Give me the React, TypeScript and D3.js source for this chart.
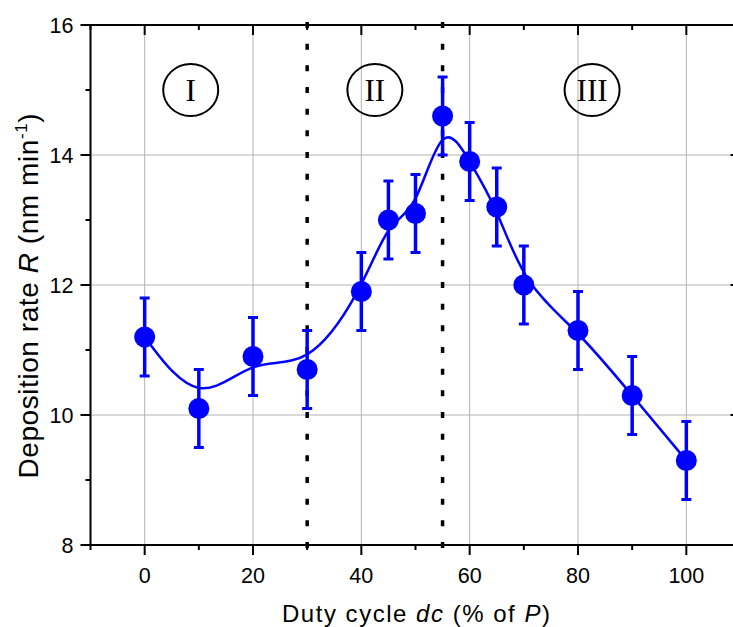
import React from "react";
import * as d3 from "d3";

const dutyCycle = [0, 10, 20, 30, 40, 45, 50, 55, 60, 65, 70, 80, 90, 100];
const rate = [11.2, 10.1, 10.9, 10.7, 11.9, 13.0, 13.1, 14.6, 13.9, 13.2, 12.0, 11.3, 10.3, 9.3];
const rateErr = [0.6, 0.6, 0.6, 0.6, 0.6, 0.6, 0.6, 0.6, 0.6, 0.6, 0.6, 0.6, 0.6, 0.6];
const xTicks = [0, 20, 40, 60, 80, 100];
const xMinorTicks = [-10, 10, 30, 50, 70, 90, 110];
const yTicks = [8, 10, 12, 14, 16];
const yMinorTicks = [9, 11, 13, 15];
const regionBoundaries = [30, 55];
const regionLabels = ["I", "II", "III"];
const regionLabelX = [8.5, 42.5, 82.6];
const regionLabelY = 15;

const W = 733;
const H = 627;
const left = 90.5;
const right = 740.5;
const top = 25;
const bottom = 545;

export default function App() {
  const x = d3.scaleLinear().domain([-10, 110]).range([left, right]);
  const y = d3.scaleLinear().domain([8, 16]).range([bottom, top]);
  const pts: [number, number][] = dutyCycle.map((d, i) => [x(d), y(rate[i])]);
  const line = d3.line().curve(d3.curveBasis)(pts) || "";
  const blue = "#0000ff";
  const font = "'Liberation Sans', Arial, sans-serif";
  const dotPeriod = (bottom - top) / 24;

  return (
    <svg
      width={W}
      height={H}
      style={{ position: "absolute", left: 0, top: 0, background: "#fff" }}
      fontFamily={font}
    >
      <rect x={0} y={0} width={W} height={H} fill="#ffffff" />
      {/* grid */}
      {xTicks.map((t) => (
        <line key={"gx" + t} x1={x(t)} x2={x(t)} y1={top} y2={bottom} stroke="#b4b4b4" strokeWidth={1} />
      ))}
      {yTicks.filter((t) => t > 8 && t < 16).map((t) => (
        <line key={"gy" + t} x1={left} x2={right} y1={y(t)} y2={y(t)} stroke="#b4b4b4" strokeWidth={1} />
      ))}
      {/* region boundaries */}
      {regionBoundaries.map((b) => (
        <line
          key={"rb" + b}
          x1={x(b)}
          x2={x(b)}
          y1={top - 3}
          y2={bottom + 3}
          stroke="#000"
          strokeWidth={3.5}
          strokeDasharray={`6 ${dotPeriod - 6}`}
        />
      ))}
      {/* region labels */}
      {regionLabels.map((l, i) => (
        <g key={"rl" + l}>
          <ellipse cx={x(regionLabelX[i])} cy={y(regionLabelY)} rx={27.5} ry={26} fill="none" stroke="#000" strokeWidth={2} />
          <text
            x={x(regionLabelX[i])}
            y={y(regionLabelY) + 10.5}
            textAnchor="middle"
            fontFamily="'Liberation Serif', 'Times New Roman', serif"
            fontSize={31}
            fill="#000"
          >
            {l}
          </text>
        </g>
      ))}
      {/* fitted curve */}
      <path d={line} fill="none" stroke={blue} strokeWidth={2.5} />
      {/* error bars */}
      {dutyCycle.map((d, i) => (
        <g key={"eb" + d} stroke={blue}>
          <line x1={x(d)} x2={x(d)} y1={y(rate[i] - rateErr[i])} y2={y(rate[i] + rateErr[i])} strokeWidth={3.5} />
          <line x1={x(d) - 5} x2={x(d) + 5} y1={y(rate[i] + rateErr[i])} y2={y(rate[i] + rateErr[i])} strokeWidth={3} />
          <line x1={x(d) - 5} x2={x(d) + 5} y1={y(rate[i] - rateErr[i])} y2={y(rate[i] - rateErr[i])} strokeWidth={3} />
        </g>
      ))}
      {/* markers */}
      {dutyCycle.map((d, i) => (
        <circle key={"m" + d} cx={x(d)} cy={y(rate[i])} r={10.5} fill={blue} />
      ))}
      {/* axes frame */}
      <g stroke="#000" strokeWidth={2}>
        <line x1={left} x2={right + 1} y1={bottom} y2={bottom} />
        <line x1={left} x2={right + 1} y1={top} y2={top} />
        <line x1={left} x2={left} y1={top - 1} y2={bottom + 1} />
        <line x1={right} x2={right} y1={top - 1} y2={bottom + 1} />
        {xTicks.map((t) => (
          <g key={"xt" + t}>
            <line x1={x(t)} x2={x(t)} y1={bottom} y2={bottom + 10} />
            <line x1={x(t)} x2={x(t)} y1={top} y2={top + 10} />
          </g>
        ))}
        {xMinorTicks.map((t) => (
          <g key={"xmt" + t}>
            <line x1={x(t)} x2={x(t)} y1={bottom} y2={bottom + 5} />
            <line x1={x(t)} x2={x(t)} y1={top} y2={top + 5} />
          </g>
        ))}
        {yTicks.map((t) => (
          <g key={"yt" + t}>
            <line x1={left - 10} x2={left} y1={y(t)} y2={y(t)} />
            <line x1={right - 10} x2={right} y1={y(t)} y2={y(t)} />
          </g>
        ))}
        {yMinorTicks.map((t) => (
          <g key={"ymt" + t}>
            <line x1={left - 5} x2={left} y1={y(t)} y2={y(t)} />
            <line x1={right - 5} x2={right} y1={y(t)} y2={y(t)} />
          </g>
        ))}
      </g>
      {/* tick labels */}
      {xTicks.map((t) => (
        <text key={"xl" + t} x={x(t)} y={bottom + 38} textAnchor="middle" fontSize={21.5} fill="#000">
          {t}
        </text>
      ))}
      {yTicks.map((t) => (
        <text key={"yl" + t} x={left - 17} y={y(t) + 7.5} textAnchor="end" fontSize={21.5} fill="#000">
          {t}
        </text>
      ))}
      {/* axis titles */}
      <text
        x={416}
        y={621.5}
        textAnchor="middle"
        fontSize={24}
        fill="#000"
        textLength={268}
        lengthAdjust="spacing"
      >
        Duty cycle <tspan fontStyle="italic">dc</tspan> (% of <tspan fontStyle="italic">P</tspan>)
      </text>
      <text
        transform={`translate(38,${296}) rotate(-90)`}
        textAnchor="middle"
        fontSize={28}
        fill="#000"
        textLength={365}
        lengthAdjust="spacing"
      >
        Deposition rate <tspan fontStyle="italic">R</tspan> (nm min
        <tspan fontSize={17} dy={-11}>-1</tspan>
        <tspan dy={11}>)</tspan>
      </text>
    </svg>
  );
}
